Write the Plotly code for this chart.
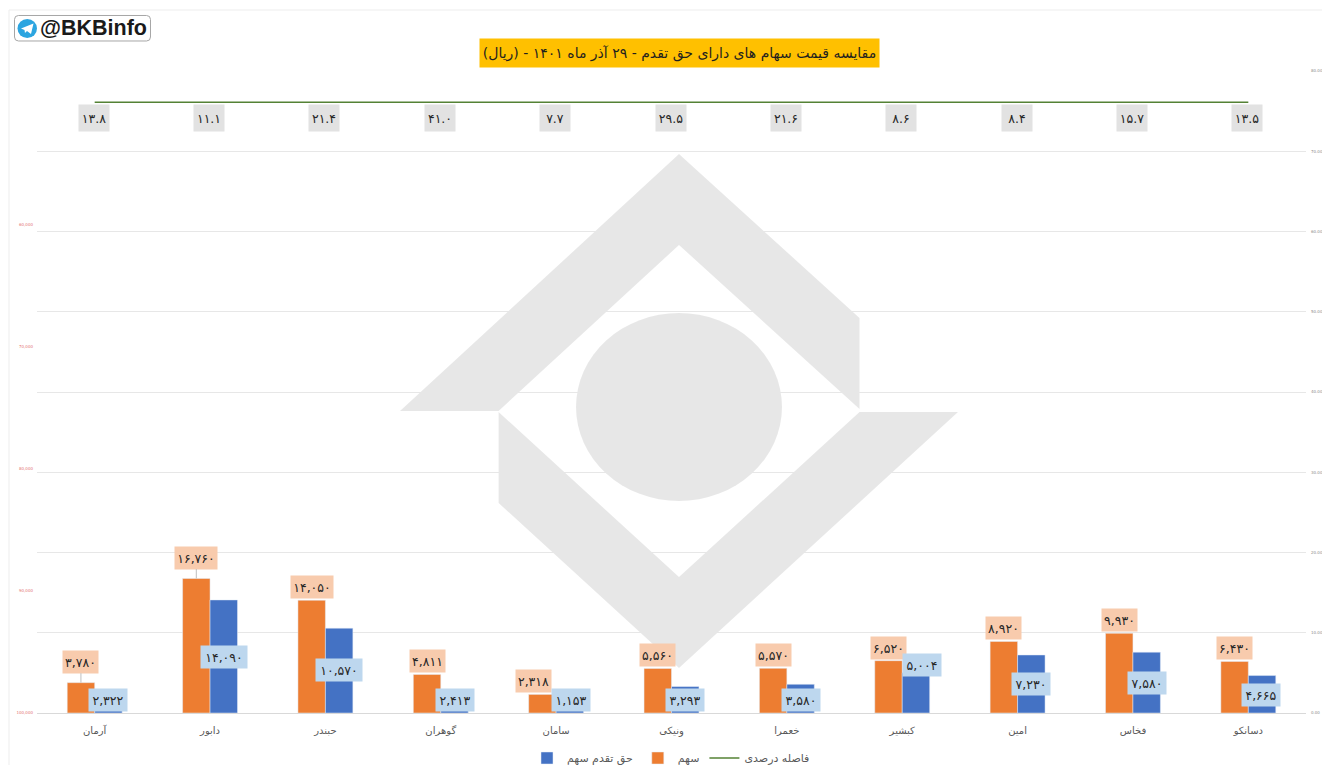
import plotly.graph_objects as go

# ---- data ----
categories = ["آرمان", "دابور", "حبندر", "گوهران", "سامان", "ونیکی", "خعمرا", "کبشیر", "امین", "فخاس", "دسانکو"]
stock_price = [3780, 16760, 14050, 4811, 2318, 5560, 5570, 6520, 8920, 9930, 6430]
right_price = [2322, 14090, 10570, 2413, 1153, 3293, 3580, 5004, 7230, 7580, 4665]
gap_percent = [13.8, 11.1, 21.4, 41.0, 7.7, 29.5, 21.6, 8.6, 8.4, 15.7, 13.5]
gap_line_level = [76.1, 76.1, 76.1, 76.1, 76.1, 76.1, 76.1, 76.1, 76.1, 76.1, 76.1]
left_tick_vals = [0, 15200, 30400, 45600, 60900]
left_tick_text = ["100,000", "90,000", "80,000", "70,000", "60,000"]
right_tick_vals = [0, 10, 20, 30, 40, 50, 60, 70, 80]
right_tick_text = ["0.00", "10.00", "20.00", "30.00", "40.00", "50.00", "60.00", "70.00", "80.00"]
series_names = ["سهم", "حق تقدم سهم", "فاصله درصدی"]
title_text = "مقایسه قیمت سهام های دارای حق تقدم - ۲۹ آذر ماه ۱۴۰۱ - (ریال)"

# ---- label placement (pixels from the bar top) ----
stock_dx = [0, 0, 0, 0, -9, 0, 0, 0, 0, 0, 0]
stock_dy = [-21, -21, -13, -13, -13, -13, -13, -13, -13, -13, -13]
right_dx = [0, 0, 0, 0, 1, 0, 0, 6, 0, 0, -1]
right_dy = [6, 57, 42, 6, -4, 13, 16, -8, 29, 31, 19]
stock_leader = [True, True] + [False] * 9

L, R, T, B = 37, 1306, 71, 713
W, H = 1322, 765
FA = "DejaVu Sans"
FA_DIGITS = str.maketrans("0123456789", "۰۱۲۳۴۵۶۷۸۹")
WATERMARK = "rgba(0,0,0,0.095)"


def fa(v, fmt):
    return format(v, fmt).translate(FA_DIGITS)


def px(x):
    return (x - L) / (R - L)


def py(y):
    return (B - y) / (B - T)


def pt(x, y):
    return f"{px(x):.5f},{py(y):.5f}"


def poly(points, fill):
    path = "M " + " L ".join(pt(x, y) for x, y in points) + " Z"
    return dict(type="path", xref="paper", yref="paper", path=path, fillcolor=fill,
                line=dict(width=0), layer="below")


def round_rect(x0, y0, x1, y1, r):
    path = (f"M {pt(x0 + r, y0)} L {pt(x1 - r, y0)} Q {pt(x1, y0)} {pt(x1, y0 + r)} "
            f"L {pt(x1, y1 - r)} Q {pt(x1, y1)} {pt(x1 - r, y1)} "
            f"L {pt(x0 + r, y1)} Q {pt(x0, y1)} {pt(x0, y1 - r)} "
            f"L {pt(x0, y0 + r)} Q {pt(x0, y0)} {pt(x0 + r, y0)} Z")
    return dict(type="path", xref="paper", yref="paper", path=path, fillcolor="white",
                line=dict(color="#A6A6A6", width=1))


fig = go.Figure()
fig.add_bar(x=categories, y=stock_price, name=series_names[0], marker_color="#ED7D31", legendrank=2)
fig.add_bar(x=categories, y=right_price, name=series_names[1], marker_color="#4472C4", legendrank=1)
fig.add_scatter(x=categories, y=gap_line_level, name=series_names[2], mode="lines", yaxis="y2",
                line=dict(color="#548235", width=1.5), legendrank=3)

shift = 13.75
ann = []
for i, c in enumerate(categories):
    ann.append(dict(x=c, y=stock_price[i], xref="x", yref="y", xshift=-shift,
                    text=fa(stock_price[i], ","), ax=stock_dx[i], ay=stock_dy[i], axref="pixel", ayref="pixel",
                    showarrow=True, arrowhead=0, arrowwidth=1, standoff=0,
                    arrowcolor="#BFBFBF" if stock_leader[i] else "rgba(0,0,0,0)",
                    bgcolor="#F8CBAD", width=40 if stock_price[i] >= 10000 else 33, height=20,
                    font=dict(family=FA, size=12.5, color="#262626")))
    ann.append(dict(x=c, y=right_price[i], xref="x", yref="y", xshift=shift,
                    text=fa(right_price[i], ","), ax=right_dx[i], ay=right_dy[i], axref="pixel", ayref="pixel",
                    showarrow=True, arrowhead=0, arrowwidth=1, standoff=0, arrowcolor="rgba(0,0,0,0)",
                    bgcolor="#BDD7EE", width=44 if right_price[i] >= 10000 else 36, height=20,
                    font=dict(family=FA, size=12.5, color="#262626")))
    ann.append(dict(x=c, y=gap_line_level[i], xref="x", yref="y2", xshift=-1,
                    text=fa(gap_percent[i], ".1f"), ax=0, ay=16, axref="pixel", ayref="pixel",
                    showarrow=True, arrowhead=0, arrowwidth=1, standoff=0, arrowcolor="rgba(0,0,0,0)",
                    bgcolor="#E2E2E2", width=28, height=24,
                    font=dict(family=FA, size=12.5, color="#262626")))

# title box
ann.append(dict(x=px(679.5), y=py(53), xref="paper", yref="paper", xanchor="center", yanchor="middle",
                text=title_text, showarrow=False,
                bgcolor="#FFC000", width=397, height=26, font=dict(family=FA, size=14, color="#1F1F1F")))
# channel tag
ann.append(dict(x=px(149), y=py(28.5), xref="paper", yref="paper", xanchor="right", yanchor="middle",
                text="<b>@BKBinfo</b>",
                showarrow=False, font=dict(family="Liberation Sans", size=21.5, color="#1A1A1A")))

shapes = [
    # watermark
    poly([(679, 154), (859.5, 318), (859.5, 409), (679, 245), (498.6, 411), (400, 411)], WATERMARK),
    poly([(498.6, 412), (679, 577), (859.5, 412), (958, 412), (679, 668), (498.6, 503)], WATERMARK),
    dict(type="circle", xref="paper", yref="paper", x0=px(576), x1=px(782), y0=py(501), y1=py(313),
         fillcolor=WATERMARK, line=dict(width=0), layer="below"),
    # image frame
    dict(type="line", xref="paper", yref="paper", x0=px(9), x1=px(9), y0=py(10), y1=py(765),
         line=dict(color="#EDEDED", width=1)),
    dict(type="line", xref="paper", yref="paper", x0=px(9), x1=px(1322), y0=py(10), y1=py(10),
         line=dict(color="#EDEDED", width=1)),
    # channel tag box and icon
    round_rect(14.5, 15.5, 150.5, 41, 4),
    dict(type="circle", xref="paper", yref="paper", x0=px(17.5), x1=px(37), y0=py(38), y1=py(19),
         fillcolor="#2CA5E0", line=dict(width=0)),
    poly([(21, 28.5), (33.5, 23.5), (31, 34), (27, 31), (25, 33), (24.5, 30)], "white") | {"layer": "above"},
]

fig.update_layout(
    width=W, height=H, autosize=False,
    margin=dict(l=L, r=W - R, t=T, b=H - B, autoexpand=False),
    paper_bgcolor="white", plot_bgcolor="rgba(0,0,0,0)",
    barmode="group", bargap=0.524, bargroupgap=0,
    font=dict(family=FA, color="#595959"),
    showlegend=True,
    legend=dict(orientation="h", x=px(671), xanchor="center", y=py(758), yanchor="middle",
                font=dict(family=FA, size=11, color="#595959"), bgcolor="rgba(0,0,0,0)",
                itemwidth=30, tracegroupgap=0),
    xaxis=dict(type="category", showgrid=False, showline=True, linecolor="#D9D9D9", linewidth=1,
               ticks="", tickfont=dict(family=FA, size=10, color="#595959"), ticklabelstandoff=8),
    yaxis=dict(range=[0, 80000], tickmode="array", tickvals=left_tick_vals, ticktext=left_tick_text,
               showgrid=False, zeroline=False, ticks="", tickfont=dict(size=4, color="#E57373"),
               ticklabelstandoff=3),
    yaxis2=dict(range=[0, 80], overlaying="y", side="right", tickmode="array", tickvals=right_tick_vals,
                ticktext=right_tick_text, showgrid=True, gridcolor="#E7E7E7", gridwidth=1, zeroline=False,
                ticks="", tickfont=dict(size=4, color="#8C8C8C"), ticklabelstandoff=4),
    annotations=ann,
    shapes=shapes,
)

fig.write_html("out.html", config=dict(displayModeBar=False),
               post_script="document.body.style.margin='0';document.body.style.overflow='hidden';")
